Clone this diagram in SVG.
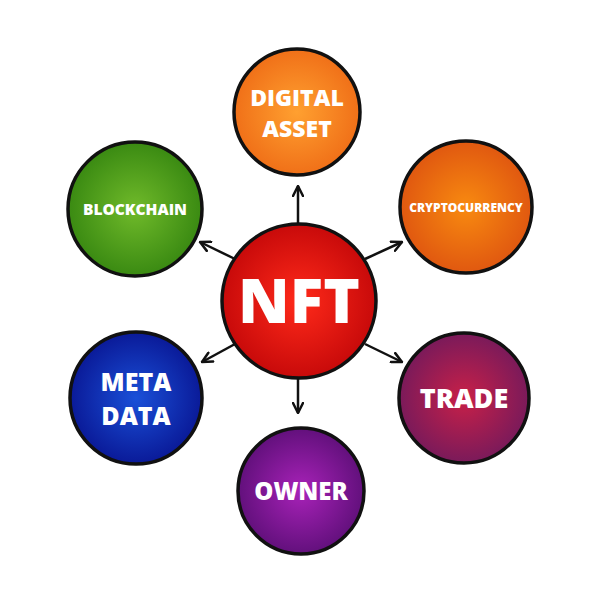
<svg xmlns="http://www.w3.org/2000/svg" width="600" height="600" viewBox="0 0 600 600">
<defs>
<radialGradient id="gRed"><stop offset="0" stop-color="#ff2a1a"/><stop offset="1" stop-color="#c80a0a"/></radialGradient>
<radialGradient id="gOr1"><stop offset="0" stop-color="#ffa030"/><stop offset="1" stop-color="#f07018"/></radialGradient>
<radialGradient id="gOr2"><stop offset="0" stop-color="#f88a10"/><stop offset="1" stop-color="#e05810"/></radialGradient>
<radialGradient id="gGreen"><stop offset="0" stop-color="#70ba2a"/><stop offset="1" stop-color="#3a8a12"/></radialGradient>
<radialGradient id="gBlue"><stop offset="0" stop-color="#1a50d8"/><stop offset="1" stop-color="#0a1a98"/></radialGradient>
<radialGradient id="gTrade"><stop offset="0" stop-color="#c82048"/><stop offset="1" stop-color="#7a1a5a"/></radialGradient>
<radialGradient id="gOwner"><stop offset="0" stop-color="#a822b8"/><stop offset="1" stop-color="#62107c"/></radialGradient>
<marker id="ah" viewBox="0 0 10 10" refX="9" refY="5" markerWidth="5" markerHeight="5" orient="auto" markerUnits="strokeWidth">
<path d="M1,1 L9,5 L1,9" fill="none" stroke="#111" stroke-width="2" stroke-linejoin="round" stroke-linecap="round"/>
</marker>
</defs>
<style>
circle{stroke:#111;stroke-width:3.5}
text{fill:#fff;font-family:"Open Sans","DejaVu Sans",sans-serif;font-weight:800;text-anchor:middle}
.c line{stroke:#111;stroke-width:2.5;marker-end:url(#ah)}
</style>
<rect width="600" height="600" fill="#fff"/>
<g class="c" id="connectors">
<line x1="298" y1="224" x2="298" y2="186"/>
<line x1="298" y1="378" x2="298" y2="413"/>
<line x1="235" y1="259" x2="200" y2="242"/>
<line x1="365" y1="259" x2="402" y2="242"/>
<line x1="235" y1="344" x2="202" y2="362"/>
<line x1="365" y1="344" x2="402" y2="362"/>
</g>
<g id="nft"><circle cx="299" cy="301" r="77" fill="url(#gRed)"/><text x="299" y="323" font-size="62">NFT</text></g>
<g id="digital-asset"><circle cx="297" cy="112" r="63" fill="url(#gOr1)"/><text x="297" y="106" font-size="23">DIGITAL</text><text x="297" y="137" font-size="23">ASSET</text></g>
<g id="cryptocurrency"><circle cx="466" cy="207" r="66" fill="url(#gOr2)"/><text x="466" y="212" font-size="12">CRYPTOCURRENCY</text></g>
<g id="blockchain"><circle cx="135" cy="209" r="67" fill="url(#gGreen)"/><text x="135" y="215" font-size="15.5">BLOCKCHAIN</text></g>
<g id="meta-data"><circle cx="136" cy="398" r="66" fill="url(#gBlue)"/><text x="136" y="391" font-size="25">META</text><text x="136" y="425" font-size="25">DATA</text></g>
<g id="trade"><circle cx="464" cy="398" r="65" fill="url(#gTrade)"/><text x="464" y="408" font-size="27">TRADE</text></g>
<g id="owner"><circle cx="301" cy="491" r="63" fill="url(#gOwner)"/><text x="301" y="500" font-size="24">OWNER</text></g>
</svg>
